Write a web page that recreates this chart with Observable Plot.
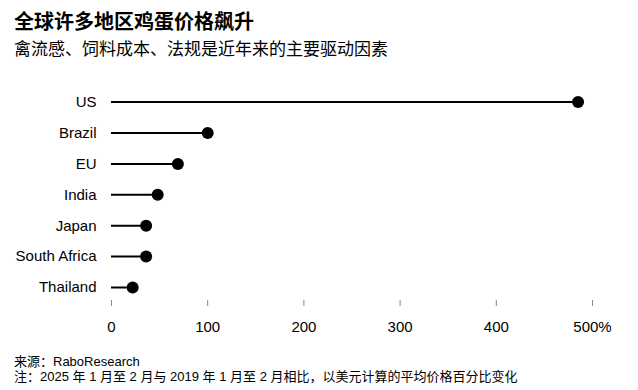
<!DOCTYPE html>
<html>
<head>
<meta charset="utf-8">
<script src="https://cdn.jsdelivr.net/npm/d3@7"></script>
<script src="https://cdn.jsdelivr.net/npm/@observablehq/plot@0.6"></script>
<style>
  html, body { margin: 0; padding: 0; background: #fff; }
  body { width: 638px; height: 390px; position: relative; overflow: hidden;
         font-family: "Liberation Sans", Arial, "Noto Sans CJK SC", sans-serif; color: #000; }
  .t { position: absolute; left: 14px; white-space: nowrap; }
  #title { top: 11px; font-size: 20px; line-height: 20px; font-weight: bold; font-family: "Noto Sans CJK SC", sans-serif; }
  #subtitle { top: 38.5px; font-size: 17px; line-height: 18px; font-family: "Noto Sans CJK SC", sans-serif; }
  #chart { position: absolute; left: 0; top: 60px; }
  #source { top: 354px; font-size: 13px; line-height: 15px; }
  #note { top: 369px; font-size: 13px; line-height: 15px; }
</style>
</head>
<body>
<div id="title" class="t">全球许多地区鸡蛋价格飙升</div>
<div id="subtitle" class="t">禽流感、饲料成本、法规是近年来的主要驱动因素</div>
<div id="chart"></div>
<div id="source" class="t">来源：RaboResearch</div>
<div id="note" class="t">注：2025 年 1 月至 2 月与 2019 年 1 月至 2 月相比，以美元计算的平均价格百分比变化</div>
<script>
const countries = ["US", "Brazil", "EU", "India", "Japan", "South Africa", "Thailand"];
const changes = [485, 100, 69, 48, 36, 36, 22];
const xTicks = [0, 100, 200, 300, 400, 500];

const data = countries.map((c, i) => ({country: c, value: changes[i]}));

const chart = Plot.plot({
  width: 638,
  height: 280,
  marginLeft: 111,
  marginRight: 46,
  marginTop: 26.15,
  marginBottom: 40,
  insetBottom: -2.45,
  style: {fontFamily: "'Liberation Sans', Arial, sans-serif", fontSize: "15px", color: "#000", background: "transparent"},
  x: {domain: [0, 500]},
  y: {domain: countries, padding: 0.5, round: false},
  marks: [
    Plot.axisX({ticks: xTicks, tickSize: 6, tickPadding: 15, stroke: "#888", fontSize: 15, fill: "#000",
      tickFormat: d => d === 500 ? "500%" : String(d), label: null}),
    Plot.axisY({tickSize: 0, tickPadding: 15, fontSize: 15, fill: "#000", label: null}),
    Plot.ruleY(data, {y: "country", x1: 0, x2: "value", stroke: "#000", strokeWidth: 2}),
    Plot.dot(data, {x: "value", y: "country", r: 6, fill: "#000", stroke: "none"})
  ]
});
document.getElementById("chart").appendChild(chart);
</script>
</body>
</html>
